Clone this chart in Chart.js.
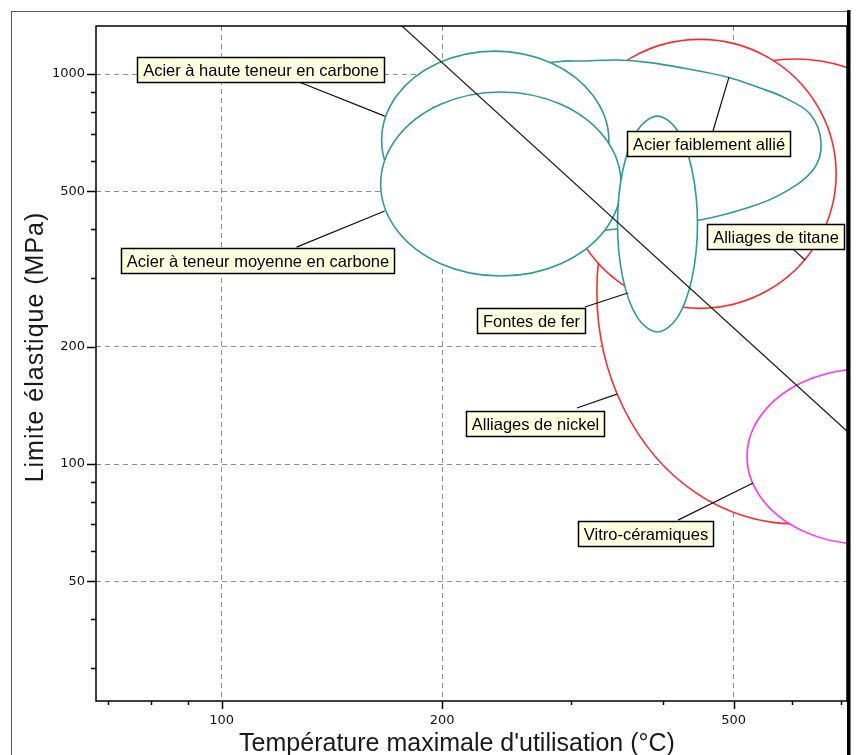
<!DOCTYPE html>
<html lang="fr">
<head>
<meta charset="utf-8">
<title>Limite élastique - température maximale d'utilisation</title>
<script src="https://cdn.jsdelivr.net/npm/chart.js@4.4.1/dist/chart.umd.min.js"></script>
<style>
  html, body { margin: 0; padding: 0; background: #fff; }
  canvas { display: block; }
</style>
</head>
<body>
<canvas id="chart" width="857" height="755"></canvas>
<script>
'use strict';

/* Axis ticks */
const xMajorTicks = [100, 200, 500];
const xMinorTicks = [70, 80, 90, 300, 400, 600, 700];
const yMajorTicks = [50, 100, 200, 500, 1000];
const yMinorTicks = [30, 40, 60, 70, 80, 90, 300, 400, 600, 700, 800, 900];

/* Envelopes, outline points: temperature (°C) / yield strength (MPa) */
const hauteTemp   = [337.8, 321.4, 281.9, 236.1, 197.6, 173.5, 165.4, 173.5, 197.6, 236.1, 281.9, 321.4];
const hauteStress = [677, 881, 1067, 1145, 1067, 881, 677, 521, 430, 400, 430, 521];

const moyenneTemp   = [351, 333.7, 290.4, 240.6, 199.1, 173.5, 164.9, 173.5, 199.1, 240.6, 290.4, 333.7];
const moyenneStress = [522.5, 685.4, 836.4, 899.2, 836.4, 685.4, 522.5, 398.1, 326.3, 303.4, 326.3, 398.1];

const allieTemp   = [225.2, 255.4, 289.5, 311.3, 346.5, 384.3, 426.3, 489.7, 543.3, 584.0,
                     635.8, 658.2, 641.8, 584.0, 526.4, 449.8, 384.3, 335.7, 298.8, 255.4];
const allieStress = [762, 1024, 1077, 1080, 1086, 1070, 1036, 982.5, 920.6, 873.1,
                     789.6, 665.4, 567.4, 495.2, 456.0, 422.2, 407.6, 398.1, 384.3, 398.1];

const fontesTemp   = [446.3, 438.7, 419.0, 393.5, 369.5, 353.0, 347.1, 353.0, 369.5, 393.5, 419.0, 438.7];
const fontesStress = [412.4, 567.4, 716.4, 780.1, 716.4, 567.4, 412.4, 299.8, 237.4, 218.1, 237.4, 299.8];

const titaneTemp   = [690.1, 651.5, 557.1, 449.8, 363.2, 310.5, 293.3, 310.5, 363.2, 449.8, 557.1, 651.5];
const titaneStress = [554.8, 825.4, 1103.7, 1227.3, 1103.7, 825.4, 554.8, 373.0, 278.9, 250.7, 278.9, 373.0];

const nickelTemp   = [1130, 1040, 827.9, 606.5, 444.1, 353.6, 325.3, 353.6, 444.1, 606.5, 827.9, 1040];
const nickelStress = [276.9, 550.1, 909.4, 1092.6, 909.4, 550.1, 276.9, 139.4, 84.3, 70.2, 84.3, 139.4];

const vitroTemp   = [1109, 1055, 918.6, 760.5, 629.8, 548.6, 521.5, 548.6, 629.8, 760.5, 918.6, 1055];
const vitroStress = [104.5, 135.5, 163.9, 175.8, 163.9, 135.5, 104.5, 80.6, 66.6, 62.2, 66.6, 80.6];

/* Guide line */
const guideTemp   = [150, 800];
const guideStress = [1750, 100];

/* Labels: box centre and leader line, in data units */
const labelTexts = [
  'Acier à haute teneur en carbone',
  'Acier à teneur moyenne en carbone',
  'Acier faiblement allié',
  'Alliages de titane',
  'Fontes de fer',
  'Alliages de nickel',
  'Vitro-céramiques'
];
const labelTemp       = [113.0, 112.0, 461.9, 570.4, 264.3, 268.1, 379.0];
const labelStress     = [1030, 333.5, 663.5, 384.3, 233.2, 127.4, 66.5];
const leaderFromTemp  = [126.6, 126.6, 468.6, 600.7, 313.3, 305.5, 419.7];
const leaderFromStr   = [959.5, 360.0, 714.4, 357.9, 252.7, 139.2, 71.8];
const leaderToTemp    = [167.0, 167.0, 492.7, 625.8, 358.5, 346.5, 531.5];
const leaderToStr     = [780, 445.4, 982.4, 333.5, 274.5, 151.1, 89.4];

const TEAL = '#2f9a9a';
const RED = '#ff2a2a';
const MAGENTA = '#ff33ff';

function points(temps, stresses) {
  return temps.map((t, i) => ({x: t, y: stresses[i]}));
}

function envelope(label, temps, stresses, color, order) {
  return {
    label: label,
    data: points(temps, stresses),
    order: order,
    closed: true,
    showLine: true,
    borderColor: color,
    borderWidth: 1.6,
    backgroundColor: '#ffffff',
    fill: 'shape',
    tension: 0.35,
    spanGaps: true,
    capBezierPoints: false,
    pointRadius: 0
  };
}

/* make the envelope lines closed, smooth loops (like the radar chart does) */
const closedLoop = {
  id: 'closedLoop',
  afterDatasetUpdate(chart, args) {
    const ds = chart.data.datasets[args.index];
    const line = args.meta.dataset;
    if (!ds.closed || !line) return;
    line._loop = true;
    line._fullLoop = true;
    line._pointsUpdated = false;
    delete line._segments;
    line._path = undefined;
  }
};

const decorations = {
  id: 'decorations',
  beforeDraw(chart) {
    const ctx = chart.ctx;
    ctx.save();
    ctx.fillStyle = '#ffffff';
    ctx.fillRect(0, 0, chart.width, chart.height);
    ctx.strokeStyle = '#5a5a5a';
    ctx.lineWidth = 1;
    ctx.strokeRect(11.5, 11.5, 836, 800);
    ctx.restore();
  },
  afterDatasetsDraw(chart) {
    const ctx = chart.ctx;
    const area = chart.chartArea;
    const xs = chart.scales.x;
    const ys = chart.scales.y;

    ctx.save();

    /* plot frame */
    ctx.strokeStyle = '#000';
    ctx.lineWidth = 1.5;
    ctx.strokeRect(area.left, area.top, area.right - area.left, area.bottom - area.top);
    ctx.fillStyle = '#000';
    ctx.fillRect(area.right, 10, 3.5, chart.height - 10);

    /* tick marks */
    ctx.beginPath();
    yMajorTicks.concat(yMinorTicks).forEach(v => {
      const y = Math.round(ys.getPixelForValue(v)) + 0.5;
      const len = yMajorTicks.includes(v) ? 9 : 5;
      ctx.moveTo(area.left - len, y);
      ctx.lineTo(area.left, y);
    });
    xMajorTicks.concat(xMinorTicks).forEach(v => {
      const x = Math.round(xs.getPixelForValue(v)) + 0.5;
      const len = xMajorTicks.includes(v) ? 8 : 4;
      ctx.moveTo(x, area.bottom);
      ctx.lineTo(x, area.bottom + len);
    });
    ctx.stroke();

    /* labels with leader lines */
    ctx.font = '16.5px "Liberation Sans", Arial, sans-serif';
    ctx.textAlign = 'center';
    ctx.textBaseline = 'middle';
    labelTexts.forEach((text, i) => {
      ctx.strokeStyle = '#111';
      ctx.lineWidth = 1.2;
      ctx.beginPath();
      ctx.moveTo(xs.getPixelForValue(leaderFromTemp[i]), ys.getPixelForValue(leaderFromStr[i]));
      ctx.lineTo(xs.getPixelForValue(leaderToTemp[i]), ys.getPixelForValue(leaderToStr[i]));
      ctx.stroke();

      const cx = xs.getPixelForValue(labelTemp[i]);
      const cy = ys.getPixelForValue(labelStress[i]);
      const w = Math.round(ctx.measureText(text).width + 11);
      const h = 25;
      const bx = Math.round(cx - w / 2) + 0.5;
      const by = Math.round(cy - h / 2) + 0.5;
      ctx.fillStyle = '#ffffe1';
      ctx.fillRect(bx, by, w, h);
      ctx.strokeStyle = '#000';
      ctx.lineWidth = 1.5;
      ctx.strokeRect(bx, by, w, h);
      ctx.fillStyle = '#000';
      ctx.fillText(text, bx + w / 2, by + h / 2 + 1);
    });

    /* axis titles */
    ctx.fillStyle = '#1a1a1a';
    ctx.font = '25px "Liberation Sans", Arial, sans-serif';
    ctx.textBaseline = 'alphabetic';
    ctx.fillText("Température maximale d'utilisation (°C)", 457, 751);
    ctx.translate(43, 347);
    ctx.rotate(-Math.PI / 2);
    if ('letterSpacing' in ctx) ctx.letterSpacing = '1px';
    ctx.fillText('Limite élastique (MPa)', 0, 0);

    ctx.restore();
  }
};

function gridWidth(majors) {
  return c => (c.tick && majors.includes(c.tick.value)) ? 1 : 0;
}

function tickLabel(majors) {
  return v => majors.includes(v) ? String(v) : '';
}

const ctx = document.getElementById('chart').getContext('2d');

const chart = new Chart(ctx, {
  type: 'scatter',
  data: {
    datasets: [
      {
        label: 'guide',
        data: points(guideTemp, guideStress),
        order: 0,
        showLine: true,
        borderColor: '#1e1e1e',
        borderWidth: 1.2,
        fill: false,
        pointRadius: 0
      },
      envelope('Vitro-céramiques', vitroTemp, vitroStress, MAGENTA, 1),
      envelope('Fontes de fer', fontesTemp, fontesStress, TEAL, 2),
      envelope('Acier à teneur moyenne en carbone', moyenneTemp, moyenneStress, TEAL, 3),
      envelope('Acier à haute teneur en carbone', hauteTemp, hauteStress, TEAL, 4),
      envelope('Acier faiblement allié', allieTemp, allieStress, TEAL, 5),
      envelope('Alliages de titane', titaneTemp, titaneStress, RED, 6),
      envelope('Alliages de nickel', nickelTemp, nickelStress, RED, 7)
    ]
  },
  options: {
    responsive: false,
    maintainAspectRatio: false,
    devicePixelRatio: 1,
    animation: false,
    events: [],
    layout: {
      padding: {top: 26, right: 10, left: 0, bottom: 0}
    },
    plugins: {
      legend: {display: false},
      tooltip: {enabled: false}
    },
    scales: {
      x: {
        type: 'logarithmic',
        position: 'bottom',
        min: 67.4,
        max: 714,
        bounds: 'data',
        afterBuildTicks(scale) {
          scale.ticks = xMinorTicks.concat(xMajorTicks).sort((a, b) => a - b).map(v => ({value: v}));
        },
        afterFit(scale) {
          scale.height = 54;
        },
        ticks: {
          autoSkip: false,
          maxRotation: 0,
          padding: 12,
          color: '#111',
          font: {family: '"DejaVu Sans", sans-serif', size: 13},
          callback: tickLabel(xMajorTicks)
        },
        grid: {
          drawTicks: false,
          color: '#8f8f8f',
          lineWidth: gridWidth(xMajorTicks)
        },
        border: {display: false, dash: [5, 4]}
      },
      y: {
        type: 'logarithmic',
        position: 'left',
        min: 24.68,
        max: 1328,
        bounds: 'data',
        afterBuildTicks(scale) {
          scale.ticks = yMinorTicks.concat(yMajorTicks).sort((a, b) => a - b).map(v => ({value: v}));
        },
        afterFit(scale) {
          scale.width = 96;
        },
        ticks: {
          autoSkip: false,
          padding: 11,
          color: '#111',
          font: {family: '"DejaVu Sans", sans-serif', size: 13},
          callback: tickLabel(yMajorTicks)
        },
        grid: {
          drawTicks: false,
          color: '#8f8f8f',
          lineWidth: gridWidth(yMajorTicks)
        },
        border: {display: false, dash: [5, 4]}
      }
    }
  },
  plugins: [closedLoop, decorations]
});
</script>
</body>
</html>
